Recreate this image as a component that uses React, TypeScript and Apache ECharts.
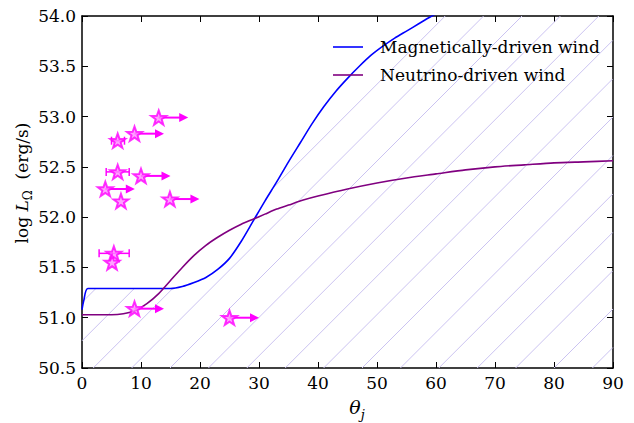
import React, { useEffect, useRef } from "react";
import * as echarts from "echarts";

// Magnetically-driven wind curve
const blueX = [0, 0.3, 1, 10, 15, 17, 19, 21, 23, 25, 27, 29, 31, 33, 35, 37, 39, 41, 43, 45, 47, 49, 51, 53, 55, 57, 59, 61, 65, 70, 75, 80, 85, 90];
const blueY = [51.08, 51.17, 51.29, 51.29, 51.29, 51.31, 51.35, 51.4, 51.48, 51.59, 51.76, 51.96, 52.16, 52.35, 52.55, 52.74, 52.93, 53.1, 53.25, 53.38, 53.5, 53.61, 53.7, 53.78, 53.85, 53.92, 53.99, 54.05, 54.15, 54.27, 54.37, 54.45, 54.52, 54.58];

// Neutrino-driven wind curve
const purpleX = [0, 5, 7, 9, 11, 13, 15, 17, 19, 21, 23, 25, 27, 29, 31, 33, 35, 37.5, 40, 45, 50, 55, 60, 65, 70, 75, 80, 85, 90];
const purpleY = [51.03, 51.03, 51.04, 51.07, 51.14, 51.24, 51.37, 51.5, 51.62, 51.72, 51.8, 51.87, 51.93, 51.98, 52.03, 52.08, 52.12, 52.17, 52.21, 52.28, 52.34, 52.39, 52.43, 52.47, 52.5, 52.52, 52.54, 52.55, 52.56];

// GRBs with lower limits on theta_j (arrows)
const limitX = [13.0, 8.9, 10.0, 3.95, 14.9, 8.9, 25.0];
const limitY = [52.99, 52.83, 52.41, 52.28, 52.18, 51.09, 51.0];
const arrowLen = 5;

// GRBs with measured theta_j (optional horizontal error bars)
const pointX = [6.05, 6.05, 6.6, 5.4, 5.1];
const pointY = [52.76, 52.45, 52.16, 51.64, 51.55];
const pointXLow: (number | null)[] = [5.0, 4.1, null, 2.9, null];
const pointXHigh: (number | null)[] = [7.2, 8.0, null, 8.0, null];

const xTicks = [0, 10, 20, 30, 40, 50, 60, 70, 80, 90];
const yTicks = [50.5, 51.0, 51.5, 52.0, 52.5, 53.0, 53.5, 54.0];

const seriesNames = ["Magnetically-driven wind", "Neutrino-driven wind"];

const SERIF = "DejaVu Serif";
const MAG = "#ff00ff";
const HATCH = "#cbc3f1";
const STAR = "path://M0,-10 L2.35,-3.24 L9.51,-3.09 L3.8,1.24 L5.88,8.09 L0,4 L-5.88,8.09 L-3.8,1.24 L-9.51,-3.09 L-2.35,-3.24 Z";

function blueAt(x: number): number {
  if (x <= blueX[0]) return blueY[0];
  for (let i = 1; i < blueX.length; i++) {
    if (x <= blueX[i]) {
      const t = (x - blueX[i - 1]) / (blueX[i] - blueX[i - 1]);
      return blueY[i - 1] + t * (blueY[i] - blueY[i - 1]);
    }
  }
  return blueY[blueY.length - 1];
}

export default function App() {
  const ref = useRef<HTMLDivElement>(null);
  useEffect(() => {
    if (!ref.current) return;
    const chart = echarts.init(ref.current, null, { renderer: "svg" });
    const xMin = xTicks[0], xMax = xTicks[xTicks.length - 1];
    const yMin = yTicks[0], yMax = yTicks[yTicks.length - 1];

    const axisCommon = {
      axisLine: { show: true, onZero: false, lineStyle: { color: "#000", width: 1.5 } },
      axisTick: { show: true, inside: true, length: 6, lineStyle: { color: "#000", width: 1 } },
      splitLine: { show: false },
    };

    const option: any = {
      animation: false,
      backgroundColor: "#fff",
      grid: { left: 82, right: 21, top: 16, bottom: 55, containLabel: false },
      legend: {
        data: seriesNames,
        orient: "vertical",
        left: 328,
        top: 32,
        icon: "rect",
        itemWidth: 30,
        itemHeight: 1.6,
        itemGap: 8,
        textStyle: { fontFamily: SERIF, fontSize: 17, color: "#000", lineHeight: 20, padding: [0, 0, 0, 12] },
      },
      xAxis: [
        {
          type: "value", min: xMin, max: xMax, interval: 10, position: "bottom",
          ...axisCommon,
          axisLabel: { fontFamily: SERIF, fontSize: 17, color: "#000", margin: 6 },
        },
        {
          type: "value", min: xMin, max: xMax, interval: 10, position: "top",
          ...axisCommon,
          axisLabel: { show: false },
        },
      ],
      yAxis: [
        {
          type: "value", min: yMin, max: yMax, interval: 0.5, position: "left",
          ...axisCommon,
          axisLabel: { fontFamily: SERIF, fontSize: 17, color: "#000", margin: 6, formatter: (v: number) => v.toFixed(1) },
        },
        {
          type: "value", min: yMin, max: yMax, interval: 0.5, position: "right",
          ...axisCommon,
          axisLabel: { show: false },
        },
      ],
      graphic: [
        {
          type: "text",
          x: 357,
          y: 410,
          style: {
            text: "{i|θ}{s|j}",
            align: "center",
            verticalAlign: "middle",
            rich: {
              i: { fontFamily: SERIF, fontStyle: "italic", fontSize: 19, lineHeight: 22, verticalAlign: "bottom", padding: [0, 0, 5, 0] },
              s: { fontFamily: SERIF, fontStyle: "italic", fontSize: 13, lineHeight: 15, verticalAlign: "bottom" },
            },
          },
        },
        {
          type: "text",
          x: 24,
          y: 183,
          rotation: Math.PI / 2,
          style: {
            text: "{n|log }{i|L}{s|Ω}{n|  (erg/s)}",
            align: "center",
            verticalAlign: "middle",
            rich: {
              n: { fontFamily: SERIF, fontSize: 17, lineHeight: 20, verticalAlign: "bottom", padding: [0, 0, 4, 0] },
              i: { fontFamily: SERIF, fontStyle: "italic", fontSize: 17, lineHeight: 20, verticalAlign: "bottom", padding: [0, 0, 4, 0] },
              s: { fontFamily: SERIF, fontSize: 12, lineHeight: 14, verticalAlign: "bottom" },
            },
          },
        },
      ],
      series: [
        {
          type: "custom",
          name: "hatch",
          coordinateSystem: "cartesian2d",
          z: 1,
          silent: true,
          data: [[xMin, yMin]],
          renderItem: (params: any, api: any) => {
            const p0 = api.coord([xMin, yMin]);
            const p1 = api.coord([xMax, yMax]);
            const left = p0[0], bottom = p0[1], right = p1[0], top = p1[1];
            const spacing = 38.4;
            const phase = 0.4;
            const children: any[] = [];
            const cStart = Math.floor((left + top - phase) / spacing) * spacing + phase;
            const st = { stroke: HATCH, lineWidth: 1 };
            for (let c = cStart; c <= right + bottom; c += spacing) {
              const pxA = Math.max(left, c - bottom);
              const pxB = Math.min(right, c - top);
              if (pxB <= pxA) continue;
              let segStart: number | null = null;
              let prev = pxA;
              for (let px = pxA; px <= pxB + 0.001; px += 0.5) {
                const py = c - px;
                const xv = xMin + ((px - left) / (right - left)) * (xMax - xMin);
                const yv = yMin + ((bottom - py) / (bottom - top)) * (yMax - yMin);
                const inside = yv <= blueAt(xv);
                if (inside && segStart === null) segStart = px;
                if (!inside && segStart !== null) {
                  children.push({ type: "line", shape: { x1: segStart, y1: c - segStart, x2: prev, y2: c - prev }, style: st });
                  segStart = null;
                }
                prev = px;
              }
              if (segStart !== null) {
                children.push({ type: "line", shape: { x1: segStart, y1: c - segStart, x2: prev, y2: c - prev }, style: st });
              }
            }
            return { type: "group", children };
          },
        },
        {
          type: "line",
          name: seriesNames[0],
          data: blueX.map((x, i) => [x, blueY[i]]),
          showSymbol: false,
          symbol: "none",
          smooth: 0.25,
          clip: true,
          z: 3,
          lineStyle: { color: "#0000ff", width: 1.6 },
          itemStyle: { color: "#0000ff" },
        },
        {
          type: "line",
          name: seriesNames[1],
          data: purpleX.map((x, i) => [x, purpleY[i]]),
          showSymbol: false,
          symbol: "none",
          smooth: 0.25,
          clip: true,
          z: 3,
          lineStyle: { color: "#800080", width: 1.6 },
          itemStyle: { color: "#800080" },
        },
        {
          type: "custom",
          name: "arrows",
          coordinateSystem: "cartesian2d",
          z: 4,
          silent: true,
          data: limitX.map((x, i) => [x, limitY[i]]),
          renderItem: (params: any, api: any) => {
            const x = api.value(0), y = api.value(1);
            const s = api.coord([x, y]);
            const e = api.coord([x + arrowLen, y]);
            const head = 9;
            return {
              type: "group",
              children: [
                { type: "line", shape: { x1: s[0], y1: s[1], x2: e[0] - head + 1, y2: e[1] }, style: { stroke: MAG, lineWidth: 2 } },
                { type: "polygon", shape: { points: [[e[0], e[1]], [e[0] - head, e[1] - 4.5], [e[0] - head, e[1] + 4.5]] }, style: { fill: MAG } },
              ],
            };
          },
        },
        {
          type: "custom",
          name: "errorbars",
          coordinateSystem: "cartesian2d",
          z: 4,
          silent: true,
          data: pointX
            .map((x, i) => [pointXLow[i], pointXHigh[i], pointY[i]])
            .filter((d) => d[0] !== null),
          renderItem: (params: any, api: any) => {
            const a = api.coord([api.value(0), api.value(2)]);
            const b = api.coord([api.value(1), api.value(2)]);
            const cap = 4;
            const st = { stroke: MAG, lineWidth: 1.5 };
            return {
              type: "group",
              children: [
                { type: "line", shape: { x1: a[0], y1: a[1], x2: b[0], y2: b[1] }, style: st },
                { type: "line", shape: { x1: a[0], y1: a[1] - cap, x2: a[0], y2: a[1] + cap }, style: st },
                { type: "line", shape: { x1: b[0], y1: b[1] - cap, x2: b[0], y2: b[1] + cap }, style: st },
              ],
            };
          },
        },
        {
          type: "scatter",
          name: "stars",
          z: 5,
          symbol: STAR,
          symbolKeepAspect: true,
          symbolSize: 15,
          data: [...limitX.map((x, i) => [x, limitY[i]]), ...pointX.map((x, i) => [x, pointY[i]])],
          itemStyle: { color: "#ff8cff", borderColor: MAG, borderWidth: 2 },
        },
      ],
    };
    chart.setOption(option);
    return () => chart.dispose();
  }, []);
  return <div ref={ref} style={{ position: "fixed", left: 0, top: 0, width: 634, height: 423 }} />;
}
